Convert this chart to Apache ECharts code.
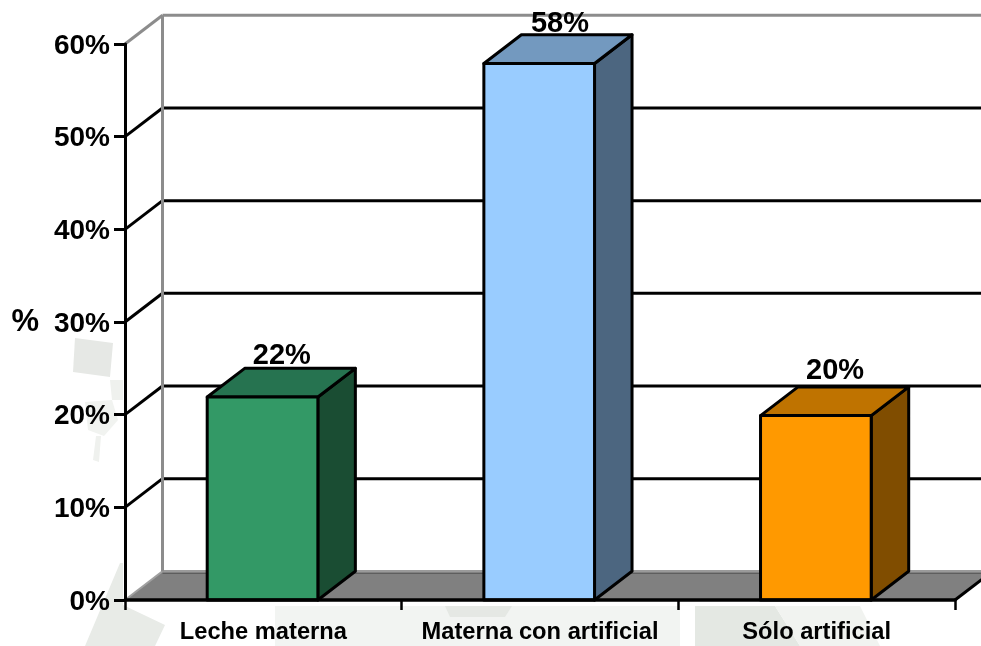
<!DOCTYPE html>
<html><head><meta charset="utf-8">
<style>html,body{margin:0;padding:0;background:#fff}#c{width:981px;height:646px}</style>
<script src="https://cdn.jsdelivr.net/npm/echarts@6/dist/echarts.min.js"></script>
</head><body><div id="c"></div>
<script>
const categories = ['Leche materna', 'Materna con artificial', 'Sólo artificial'];
const values = [21.9, 57.9, 19.9];
const valueLabels = ['22%', '58%', '20%'];
const yTicks = [0, 10, 20, 30, 40, 50, 60];
const frontColors = ['#339966', '#99ccff', '#ff9900'];
const topColors = ['#267350', '#7399bf', '#bf7300'];
const sideColors = ['#1a4d33', '#4c6680', '#804d00'];

const DX = 37.5, DY = -28.7;
const LABEL_LIFT = [13, 12, 17];
const FONT = '"Liberation Sans", Arial, sans-serif';
const BLACK = {stroke: '#000', lineWidth: 3, fill: 'none'};
const WALL = {stroke: '#8c8c8c', lineWidth: 3, fill: 'none'};

const line = (a, b, style) => ({type: 'line', shape: {x1: a[0], y1: a[1], x2: b[0], y2: b[1]}, style});
const poly = (points, fill, lw) => ({type: 'polygon', shape: {points}, style: {fill, stroke: lw ? '#000' : 'none', lineWidth: lw || 0, lineJoin: 'round'}});

function renderFrame(params, api) {
  const v = api.value(0);
  const cs = params.coordSys;
  const left = cs.x, right = cs.x + cs.width;
  const y = api.coord([0, v])[1];
  const p = [left, y];
  const back = [left + DX, y + DY];
  const edge = [right + DX, y + DY];
  if (v === 0) {
    return {type: 'group', children: [
      poly([p, back, edge, [right, y]], '#808080'),
      line(p, back, {stroke: '#a0a0a0', lineWidth: 2, fill: 'none'}),
      line(back, edge, {stroke: '#9a9a9a', lineWidth: 2.5, fill: 'none'}),
      line([back[0], back[1] + 2], [edge[0], edge[1] + 2], {stroke: '#555', lineWidth: 1, fill: 'none'}),
      line([right, y], edge, BLACK),
    ]};
  }
  const top = v === yTicks[yTicks.length - 1];
  const st = top ? WALL : BLACK;
  return {type: 'group', children: [line(p, back, st), line(back, edge, st)]};
}

function renderWall(params, api) {
  const x = params.coordSys.x + DX;
  const a = api.coord([0, api.value(0)]);
  const b = api.coord([0, api.value(1)]);
  return line([x, a[1] + DY], [x, b[1] + DY], WALL);
}

function renderBar(params, api) {
  const i = api.value(0);
  const base = api.coord([i, 0]);
  const head = api.coord([i, api.value(1)]);
  const w = api.size([1, 0])[0] * 0.4;
  const l = base[0] - w / 2 - 0.8, r = l + w, t = head[1], b = base[1];
  const lw = 3;
  return {type: 'group', children: [
    poly([[r, t], [r + DX, t + DY], [r + DX, b + DY], [r, b]], sideColors[i], lw),
    poly([[l, t], [l + DX, t + DY], [r + DX, t + DY], [r, t]], topColors[i], lw),
    poly([[l, t], [r, t], [r, b], [l, b]], frontColors[i], lw),
    {type: 'text', style: {text: valueLabels[i], x: (l + r) / 2 + DX / 2 + (i === 1 ? 2 : 0.5), y: t + DY - LABEL_LIFT[i] + 1,
      align: 'center', verticalAlign: 'middle', fill: '#000', font: 'bold 29px ' + FONT}},
  ]};
}

const watermark = [
  {pts: [[75, 338], [113, 343], [110, 377], [73, 372]], c: '#e6e8e5'},
  {pts: [[110, 380], [123, 380], [123, 400], [112, 400]], c: '#eff1ee'},
  {pts: [[85, 402], [112, 400], [118, 420], [104, 436], [88, 430]], c: '#f1f3f0'},
  {pts: [[96, 436], [101, 436], [99, 462], [93, 460]], c: '#eff1ee'},
  {pts: [[120, 563], [123, 563], [123, 605], [165, 625], [155, 646], [85, 646]], c: '#e8ebe7'},
  {pts: [[275, 606], [680, 606], [680, 646], [275, 646]], c: '#f2f4f2'},
  {pts: [[445, 606], [512, 606], [505, 617], [450, 617]], c: '#e5e8e4'},
  {pts: [[695, 606], [775, 606], [800, 646], [695, 646]], c: '#e4e8e3'},
  {pts: [[775, 606], [860, 606], [880, 646], [800, 646]], c: '#f1f3f0'},
];

const chart = echarts.init(document.getElementById('c'), null, {renderer: 'canvas'});
chart.setOption({
  animation: false,
  backgroundColor: '#fff',
  textStyle: {fontFamily: FONT},
  graphic: watermark.map(w => ({type: 'polygon', z: -10, silent: true,
    shape: {points: w.pts}, style: {fill: w.c}})),
  grid: {left: 125, right: 26, top: 44, bottom: 46, containLabel: false, outerBoundsMode: 'none'},
  xAxis: {
    type: 'category', data: categories, z: 10,
    axisLine: {lineStyle: {color: '#000', width: 3.5}},
    axisTick: {show: true, length: 10, lineStyle: {color: '#000', width: 2.5}},
    axisLabel: {color: '#000', fontWeight: 'bold', fontSize: 23.7, margin: 20, interval: 0, hideOverlap: false, fontFamily: FONT},
  },
  yAxis: {
    type: 'value', min: 0, max: 60, interval: 10, z: 10,
    name: '%', nameLocation: 'middle', nameRotate: 0, nameGap: 86,
    nameTextStyle: {color: '#000', fontWeight: 'bold', fontSize: 31, fontFamily: FONT},
    splitLine: {show: false},
    axisLine: {show: true, lineStyle: {color: '#000', width: 3}},
    axisTick: {show: true, length: 11, lineStyle: {color: '#000', width: 3}},
    axisLabel: {margin: 15, formatter: '{t|{value}%}',
      rich: {t: {color: '#000', fontWeight: 'bold', fontSize: 28, fontFamily: FONT, padding: [4, 0, 0, 0]}}},
  },
  series: [
    {type: 'custom', z: 1, clip: false, silent: true, renderItem: renderFrame,
      data: yTicks.map(v => [v]), encode: {y: 0}},
    {type: 'custom', z: 2, clip: false, silent: true, renderItem: renderWall,
      data: [[yTicks[0], yTicks[yTicks.length - 1]]], encode: {y: [0, 1]}},
    {type: 'custom', z: 3, clip: false, silent: true, renderItem: renderBar,
      data: values.map((v, i) => [i, v]), encode: {x: 0, y: 1}},
  ],
});
</script></body></html>
